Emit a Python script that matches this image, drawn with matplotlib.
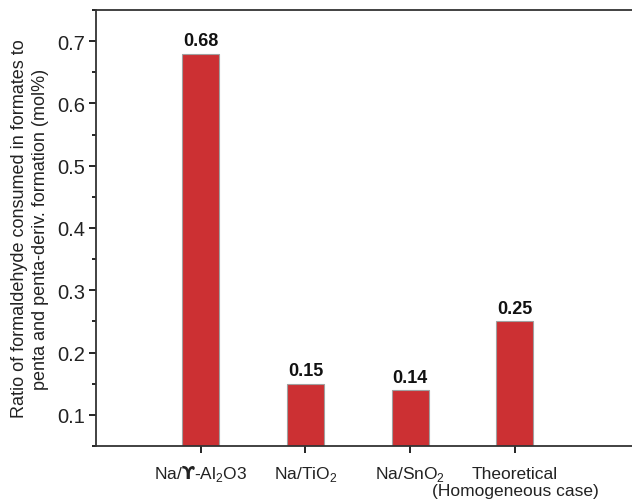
import matplotlib
matplotlib.use('agg')
import matplotlib.pyplot as plt
import matplotlib.transforms as mtransforms
import numpy as np

plt.rcParams['font.family'] = ['Liberation Sans', 'DejaVu Sans']
plt.rcParams['mathtext.fontset'] = 'custom'
plt.rcParams['mathtext.rm'] = 'Liberation Sans'
plt.rcParams['mathtext.bf'] = 'DejaVu Sans:bold'

categories = ['Na/$\\mathbf{\u03d2}$-Al$_2$O3', 'Na/TiO$_2$', 'Na/SnO$_2$', 'Theoretical']
second_line = ['', '', '', '(Homogeneous case)']
values = [0.68, 0.15, 0.14, 0.25]
positions = [1, 2, 3, 4]

fig = plt.figure(figsize=(6.32, 5.02), dpi=100)
ax = fig.add_axes([96/632, 55/502, 576/632, 436/502])

bars = ax.bar(positions, values, width=0.355, bottom=0, color='#cc3033',
              edgecolor='#a0a0a0', linewidth=0.8, zorder=2)
for rect, v in zip(bars, values):
    ax.text(rect.get_x() + rect.get_width()/2, v + 0.007, '%.2f' % v,
            ha='center', va='bottom', fontsize=13, fontweight='bold', color='#111111')

ax.set_xlim(0, 5.5)
ax.set_ylim(0.05, 0.75)
ax.set_yticks(np.arange(0.1, 0.71, 0.1))
ax.set_yticks(np.arange(0.05, 0.751, 0.05), minor=True)
ax.set_yticklabels(['%.1f' % t for t in np.arange(0.1, 0.71, 0.1)])
ax.set_xticks(positions)
ax.set_xticklabels(categories, fontsize=12.5, color='#222222')
for lbl in ax.get_xticklabels():
    lbl.set_verticalalignment('baseline')

# second line of the last category label
trans = mtransforms.blended_transform_factory(ax.transData, fig.transFigure)
for p, s in zip(positions, second_line):
    if s:
        ax.text(p, 10/502, s, transform=trans, ha='center', va='center',
                fontsize=12.5, color='#222222')

ax.tick_params(axis='y', which='major', direction='out', length=5, width=1.2,
               labelsize=14.5, labelcolor='#222222', pad=3)
ax.tick_params(axis='y', which='minor', direction='out', length=3, width=1.2)
ax.tick_params(axis='x', which='major', direction='out', length=5, width=1.2, pad=18)

for s in ['left', 'bottom', 'top']:
    ax.spines[s].set_linewidth(1.3)
    ax.spines[s].set_color('#333333')
ax.spines['right'].set_visible(False)

ax.set_ylabel('Ratio of formaldehyde consumed in formates to\npenta and penta-deriv. formation (mol%)',
              fontsize=13, color='#222222', linespacing=1.3, labelpad=6)

plt.savefig('out.png', dpi=100)
